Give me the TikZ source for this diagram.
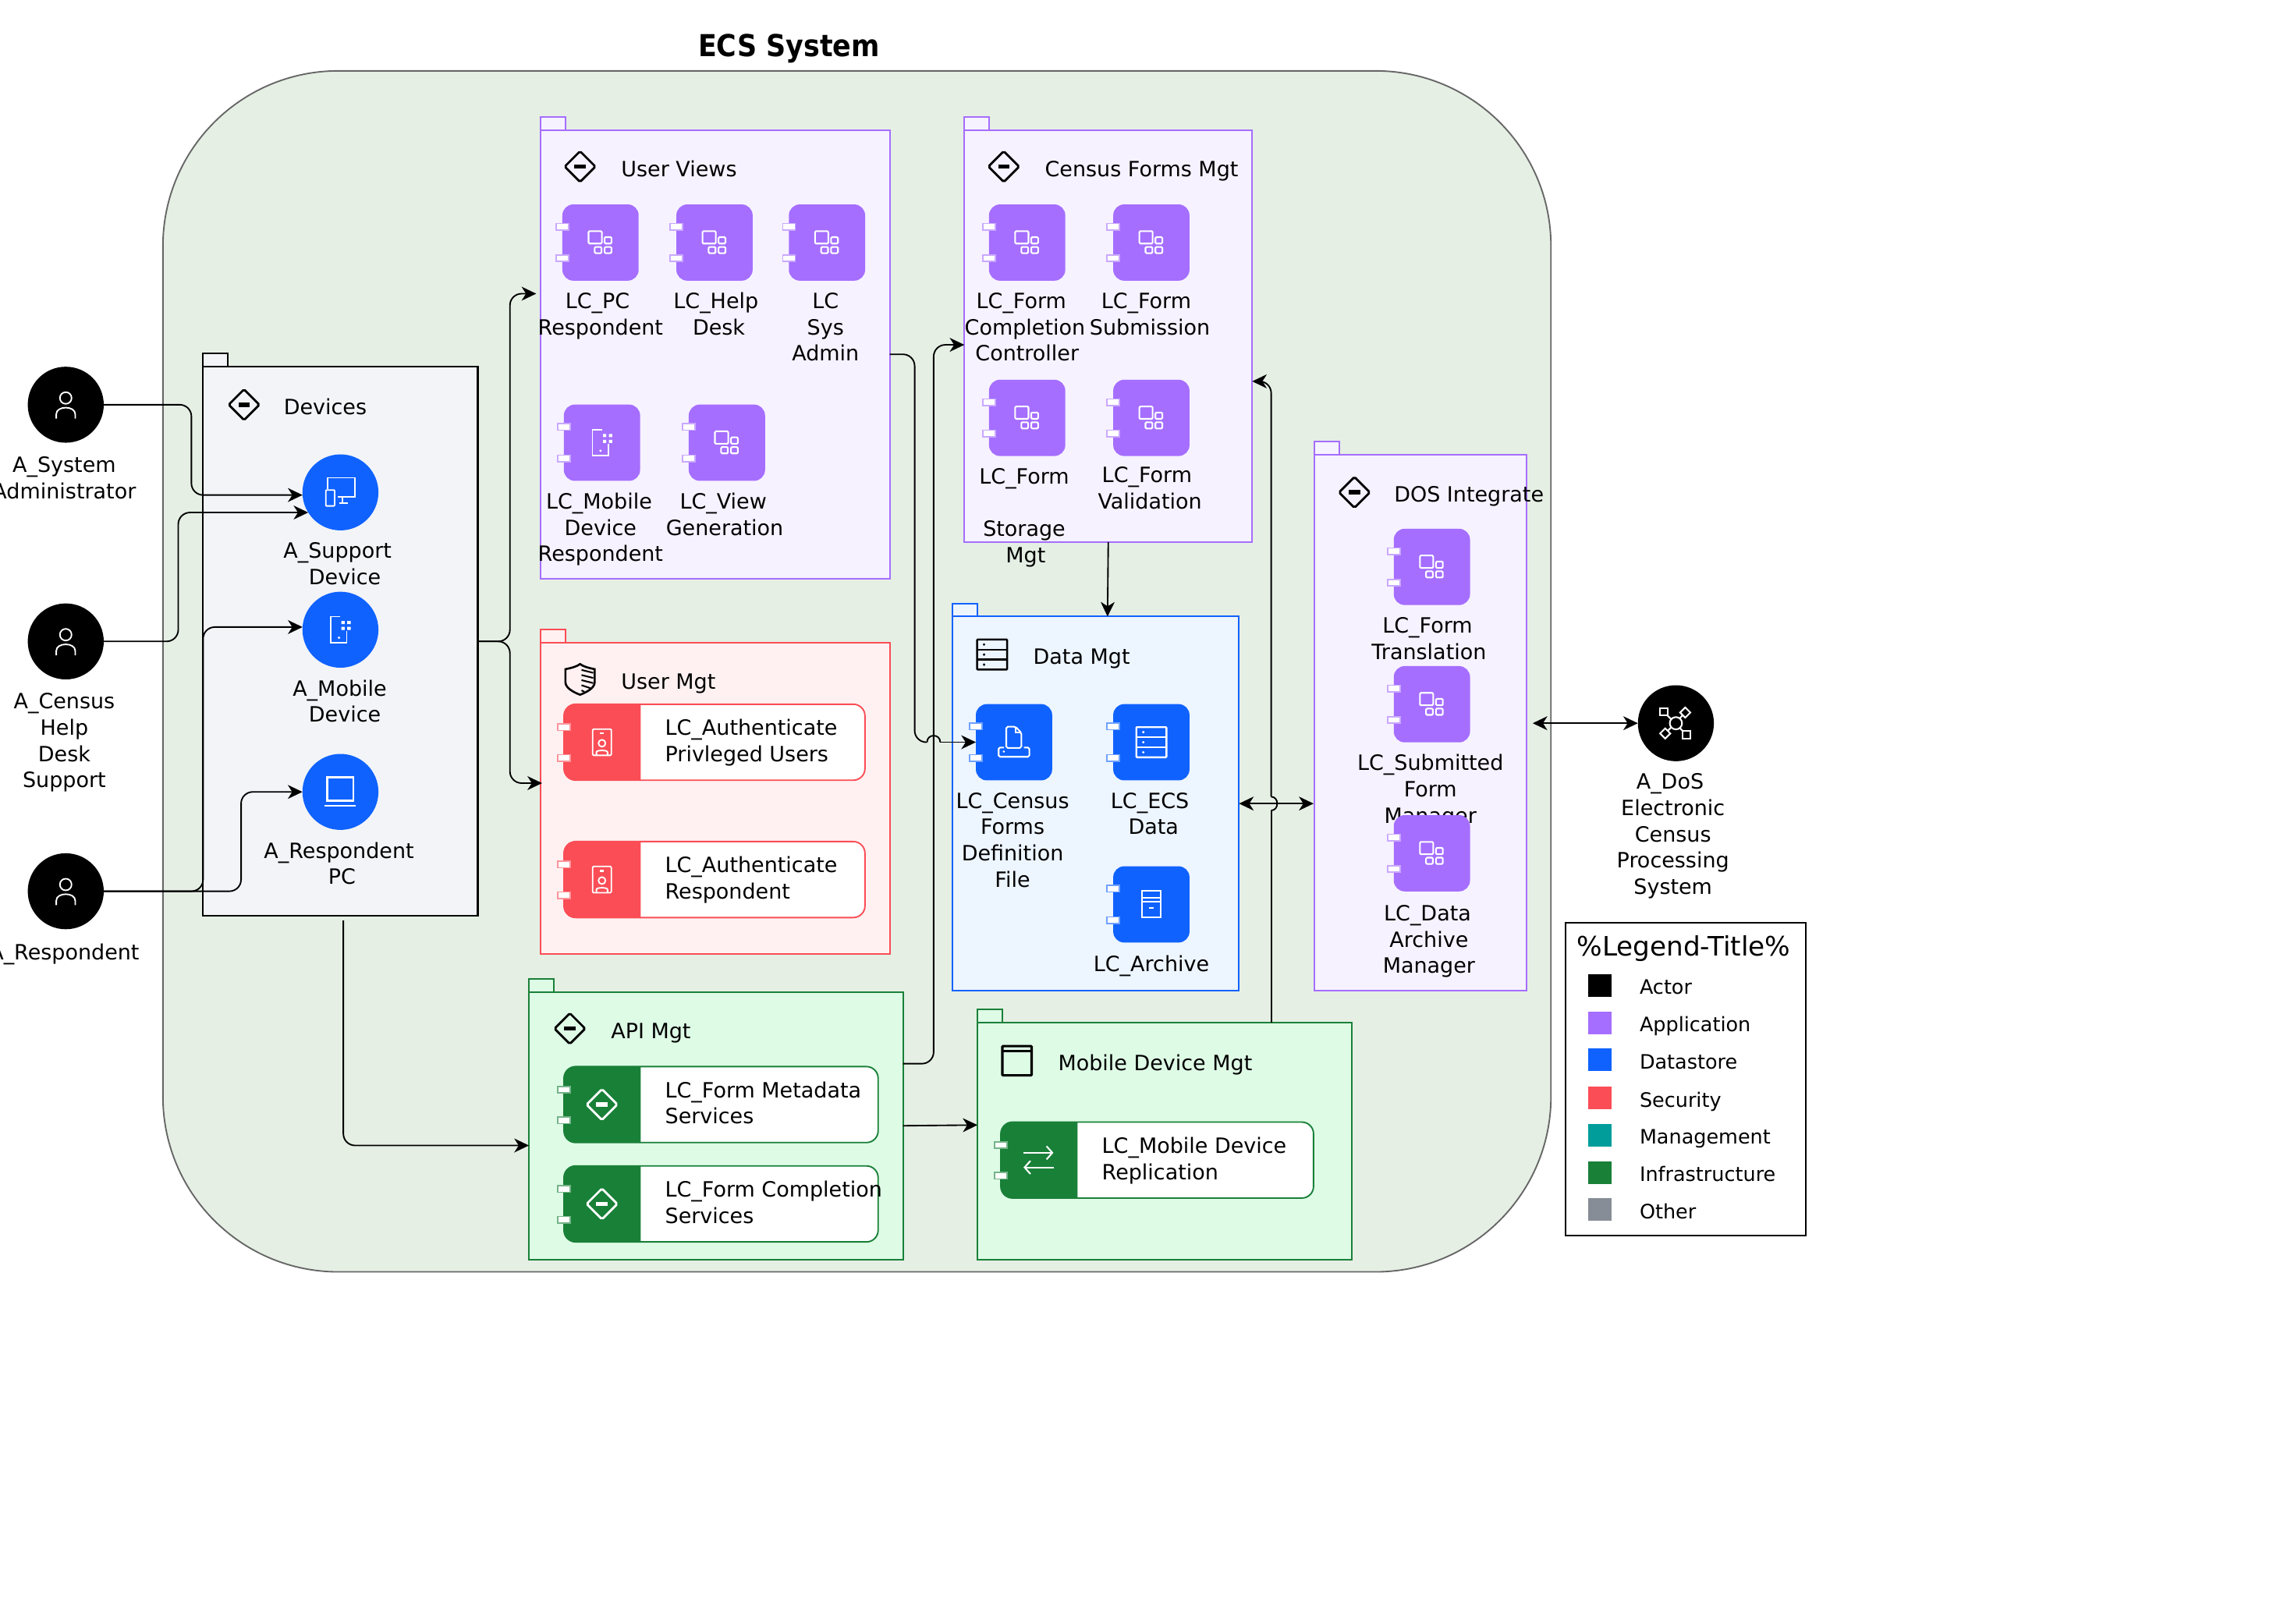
\documentclass[tikz,border=0pt]{standalone}
\usepackage{fontspec}
\setmainfont{DejaVu Sans}
\newfontfamily\titlefont[FakeStretch=0.9]{DejaVu Sans}
\usetikzlibrary{arrows.meta}

\definecolor{actorc}{HTML}{000000}
\definecolor{appc}{HTML}{A56EFF}
\definecolor{datac}{HTML}{0F62FE}
\definecolor{secc}{HTML}{FA4D56}
\definecolor{mgmtc}{HTML}{009D9A}
\definecolor{infrac}{HTML}{198038}
\definecolor{otherc}{HTML}{878D96}
\definecolor{appbg}{HTML}{F6F2FF}
\definecolor{databg}{HTML}{EDF5FF}
\definecolor{secbg}{HTML}{FFF1F1}
\definecolor{infrabg}{HTML}{DEFBE6}
\definecolor{devbg}{HTML}{F2F4F8}
\definecolor{sysbg}{HTML}{E5EFE4}

\tikzset{
	conn/.style={line width=1pt,rounded corners=8pt,->},
	connpart/.style={line width=1pt,rounded corners=8pt},
	bothconn/.style={line width=1pt,<->},
	lbl/.style={font=\fontsize{14.4}{18}\selectfont,align=center,inner sep=0pt,yshift=-2.5pt,execute at begin node=\strut,execute at end node=\strut},
	lefttxt/.style={font=\fontsize{14.4}{18}\selectfont,align=left,inner sep=0pt,anchor=west,yshift=-2.5pt,execute at begin node=\strut,execute at end node=\strut},
	keytxt/.style={font=\fontsize{13.6}{18}\selectfont,inner sep=0pt,anchor=west,yshift=-2pt,execute at begin node=\strut},
	pkgbox/.style={rectangle,anchor=north west,inner sep=0pt,outer sep=0pt,line width=1.1pt},
	apppkg/.style={draw=appc,fill=appbg},
	datapkg/.style={draw=datac,fill=databg},
	secpkg/.style={draw=secc,fill=secbg},
	infrapkg/.style={draw=infrac,fill=infrabg},
	devpkg/.style={draw=black,fill=devbg},
	tilebox/.style={rectangle,rounded corners=7.5pt,minimum width=52.2pt,minimum height=52.2pt,inner sep=0pt,outer sep=0pt},
	pinbox/.style={fill=white,line width=0.9pt},
	ball/.style={circle,minimum size=52pt,inner sep=0pt,outer sep=0pt},
	swatch/.style={rectangle,minimum width=16pt,minimum height=15.5pt,inner sep=0pt},
	pics/personicon/.style={code={
		\draw[white,line width=1pt] (0,-4.6) circle (4);
		\draw[white,line width=1pt] (-6.5,9.5) -- (-6.5,6.5) .. controls (-6.5,0.5) and (6.5,0.5) .. (6.5,6.5) -- (6.5,9.5);
	}},
	pics/appicon/.style={code={
		\draw[white,line width=1.1pt,rounded corners=0.7pt] (-8.2,-7.8) rectangle (0.9,0.7);
		\draw[white,line width=1.1pt,rounded corners=0.7pt] (2.8,-3.7) rectangle (7.5,0.7);
		\draw[white,line width=1.1pt,rounded corners=0.7pt] (-4,3) rectangle (0.7,7.3);
		\draw[white,line width=1.1pt,rounded corners=0.7pt] (2.8,3) rectangle (7.5,7.3);
	}},
	pics/diamondicon/.style={code={
		\draw[#1,line width=1.5pt,rounded corners=1pt] (-10.5,0) -- (0,-10.5) -- (10.5,0) -- (0,10.5) -- cycle;
		\fill[#1] (-3.9,-1.5) rectangle (3.9,1.5);
	}},
	pics/shieldicon/.style={code={
		\draw[black,line width=1.4pt] (-10,-7) .. controls (-5,-8) and (-2,-9) .. (0,-10.5) .. controls (2,-9) and (5,-8) .. (10,-7) -- (10,2) .. controls (10,6) and (4,9) .. (0,10.5) .. controls (-4,9) and (-10,6) .. (-10,2) -- cycle;
		\draw[black,line width=1.1pt] (1,-6.5) -- (9,-4.5) (1,-3) -- (9,-1) (1,0.5) -- (9,2.5) (1,4) -- (7,6) (1,7.5) -- (3,8.5);
	}},
	pics/servericon/.style={code={
		\draw[#1,line width=1.3pt,rounded corners=0.5pt] (-10.3,-10.3) rectangle (10.3,10.3);
		\draw[#1,line width=1.3pt] (-10.3,-3.4) -- (10.3,-3.4) (-10.3,3.4) -- (10.3,3.4);
		\fill[#1] (-5.5,-6.9) circle (0.9) (-5.5,0) circle (0.9) (-5.5,6.9) circle (0.9);
	}},
	pics/mobileicon/.style={code={
		\draw[white,line width=1pt] (0,-9) -- (-6.5,-9) -- (-6.5,9) -- (4.3,9) -- (4.3,1);
		\fill[white] (0.7,-6) rectangle (2.9,-3.9) (4.7,-6) rectangle (7,-3.9) (0.7,-2) rectangle (2.9,0.2) (4.7,-2) rectangle (7,0.2) (-1,5.5) circle (0.9);
	}},
	pics/desktopicon/.style={code={
		\draw[white,line width=1pt] (-9,-2.5) -- (-9,-10) -- (10,-10) -- (10,3.3) -- (-2,3.3);
		\draw[white,line width=1pt,rounded corners=0.5pt] (-10,-1.6) rectangle (-4,9.3);
		\draw[white,line width=1pt] (1.5,3.3) -- (1.5,7.5) (-1,7.5) -- (5,7.5);
	}},
	pics/laptopicon/.style={code={
		\draw[white,line width=1.2pt] (-9,-10) rectangle (9,6);
		\draw[white,line width=1.4pt] (-11,9.5) -- (10.7,9.5);
	}},
	pics/badgeicon/.style={code={
		\draw[white,line width=1pt,rounded corners=0.7pt] (-6.4,-9) rectangle (6.4,9);
		\draw[white,line width=1.2pt] (-1.2,-6) -- (1.2,-6);
		\draw[white,line width=1pt] (0,0.7) circle (2.4);
		\draw[white,line width=1pt] (-3.8,9) -- (-3.8,6.8) .. controls (-3.8,5.2) and (3.8,5.2) .. (3.8,6.8) -- (3.8,9);
	}},
	pics/docicon/.style={code={
		\draw[white,line width=1.1pt,rounded corners=1pt] (-5.3,3.9) -- (-5.3,-10.6) -- (1,-10.6) -- (5,-6.5) -- (5,3.9) -- cycle;
		\draw[white,line width=1pt] (1,-10.6) -- (1,-6.5) -- (5,-6.5);
		\draw[white,line width=1.1pt,rounded corners=1pt] (-6.8,3.6) -- (-10.5,3.6) -- (-10.5,10) -- (10.5,10) -- (10.5,3.6) -- (6.8,3.6);
		\fill[white] (-7,6.4) circle (0.8);
	}},
	pics/archiveicon/.style={code={
		\draw[white,line width=1.1pt] (-6.5,-9.1) rectangle (6.5,9);
		\draw[white,line width=1.1pt] (-6.5,-4.5) -- (6.5,-4.5) (-6.5,-1.6) -- (6.5,-1.6);
		\draw[white,line width=1.2pt] (-1.5,2.5) -- (1.5,2.5);
	}},
	pics/browsericon/.style={code={
		\draw[black,line width=1.7pt,rounded corners=0.5pt] (-10,-10) rectangle (10,10);
		\draw[black,line width=1.7pt] (-10,-6.5) -- (10,-6.5);
	}},
	pics/swapicon/.style={code={
		\draw[white,line width=1.1pt,-{Straight Barb[length=4pt,width=9pt]}] (-10.5,-5) -- (10,-5);
		\draw[white,line width=1.1pt,-{Straight Barb[length=4pt,width=9pt]}] (10,5) -- (-10.5,5);
	}},
	pics/hubicon/.style={code={
		\draw[white,line width=1.1pt] (-8.2,-7.8) -- (7.1,7.8) (6.4,-7.3) -- (-7.3,7);
		\draw[white,line width=1.1pt,fill=black] (0,0) circle (4.2);
		\draw[white,line width=1.1pt,fill=black] (-10.8,-10.4) rectangle (-5.6,-5.2) (4.5,5.2) rectangle (9.7,10.4);
		\draw[white,line width=1.1pt,fill=black] (6.4,-10.8) -- (9.9,-7.3) -- (6.4,-3.8) -- (2.9,-7.3) -- cycle;
		\draw[white,line width=1.1pt,fill=black] (-7.3,3.5) -- (-3.8,7) -- (-7.3,10.5) -- (-10.8,7) -- cycle;
	}},
}

\def\package[#1](#2)(#3,#4)(#5,#6){
	\node[pkgbox,#1,minimum width=#5pt,minimum height=#6pt] (#2) at (#3,#4) {};
	\draw[#1,line width=1.1pt] (#3,#4-9) rectangle (#3+17,#4);
}
\def\tile[#1](#2)(#3,#4)#5{
	\node[tilebox,fill=#1] (#2) at (#3,#4) {};
	\draw[pinbox,draw=#1!60] (#3-30.3,#4-13) rectangle (#3-21.8,#4-8.5);
	\draw[pinbox,draw=#1!60] (#3-30.3,#4+8.5) rectangle (#3-21.8,#4+13);
	\pic at (#2) {#5};
}
\def\widetile[#1](#2)(#3,#4)(#5)#6{
	\node[rectangle,anchor=north west,rounded corners=8pt,draw=#1,fill=white,line width=1pt,minimum width=#5pt,minimum height=52pt,inner sep=0pt,outer sep=0pt] (#2) at (#3,#4) {};
	\fill[#1] (#3+52.5,#4) [rounded corners=8pt] -- (#3,#4) -- (#3,#4+52) [sharp corners] -- (#3+52.5,#4+52) -- cycle;
	\draw[pinbox,draw=#1!60] (#3-4.3,#4+13.5) rectangle (#3+4.3,#4+18);
	\draw[pinbox,draw=#1!60] (#3-4.3,#4+34.5) rectangle (#3+4.3,#4+39);
	\pic at (#3+26,#4+26) {#6};
}

\begin{document}
\begin{tikzpicture}[x=1pt,y=-1pt,>={Stealth[length=10pt,width=9.5pt,inset=3pt]}]
	\useasboundingbox (0,0) rectangle (1568,1111.5);
	
	%%%%% START %%%%%
	
	\node[font=\fontsize{20.7}{25}\titlefont\bfseries,inner sep=0pt] (systitle) at (540,33) {ECS System};
	\node[rectangle,anchor=north west,rounded corners=120pt,draw=black!60,fill=sysbg,line width=1pt,minimum width=950pt,minimum height=822pt,inner sep=0pt] (ecssystem) at (111,48) {};
	
	\package[devpkg](devices)(139,251)(188,376)
	\package[apppkg](userviews)(370,89)(239,307)
	\package[secpkg](usermgt)(370,440)(239,213)
	\package[apppkg](censusmgt)(660,89)(197,282)
	\package[datapkg](datamgt)(652,422)(196,256)
	\package[apppkg](dosint)(899.5,311)(145.5,367)
	\package[infrapkg](apimgt)(362,679)(256,183)
	\package[infrapkg](mobilemgt)(669,700)(256,162)
	
	\pic at (167,277) {diamondicon=black};
	\node[lefttxt] (devicestxt) at (194,277.5) {Devices};
	\pic at (397,114) {diamondicon=black};
	\node[lefttxt] (viewstxt) at (425,115) {User Views};
	\pic at (397,465) {shieldicon};
	\node[lefttxt] (umgttxt) at (425,465.5) {User Mgt};
	\pic at (687,114) {diamondicon=black};
	\node[lefttxt] (censustxt) at (715,115) {Census Forms Mgt};
	\pic at (679,448) {servericon=black};
	\node[lefttxt] (datatxt) at (707,448.5) {Data Mgt};
	\pic at (927,337) {diamondicon=black};
	\node[lefttxt] (dostxt) at (954,337.5) {DOS Integrate};
	\pic at (390,704) {diamondicon=black};
	\node[lefttxt] (apitxt) at (418,705) {API Mgt};
	\pic at (696,726) {browsericon};
	\node[lefttxt] (mobiletxt) at (724,726.5) {Mobile Device Mgt};
	
	\node[lbl] (pclbl) at (411,215) {LC\_PC\hspace*{4pt}\\Respondent};
	\node[lbl] (helplbl) at (491,215) {LC\_Help\hspace*{2pt}\\\hspace*{2pt}Desk};
	\node[lbl] (syslbl) at (565,224) {LC\\Sys\hspace*{3pt}\\Admin};
	\node[lbl] (mobilelbl) at (411,361) {LC\_Mobile\hspace*{2pt}\\Device\\Respondent};
	\node[lbl] (viewlbl) at (496,352) {LC\_View\hspace*{2pt}\\Generation};
	\node[lbl] (complbl) at (701.5,224) {LC\_Form\hspace*{5pt}\\Completion\\\hspace*{3pt}Controller};
	\node[lbl] (sublbl) at (787,215) {LC\_Form\hspace*{5pt}\\Submission};
	\node[lbl] (storelbl) at (701,353) {LC\_Form\\[18pt]Storage\hspace*{6pt}\\\hspace*{2pt}Mgt};
	\node[lbl] (validlbl) at (787,334) {LC\_Form\hspace*{4pt}\\Validation};
	\node[lbl] (deflbl) at (693,575) {LC\_Census\\Forms\\Definition\hspace*{4pt}\\File};
	\node[lbl] (ecslbl) at (788.5,557) {LC\_ECS\hspace*{3pt}\\\hspace*{2pt}Data};
	\node[lbl] (archlbl) at (788,659) {LC\_Archive};
	\node[lbl] (translbl) at (978,437) {LC\_Form\hspace*{2pt}\\Translation};
	\node[lbl] (submlbl) at (979,540) {LC\_Submitted\\Form\\Manager};
	\node[lbl] (dataarchlbl) at (978,643) {LC\_Data\hspace*{2pt}\\Archive\hspace*{4pt}\\Manager};
	
	\tile[appc](pcres)(411,166){appicon}
	\tile[appc](helpdesk)(489,166){appicon}
	\tile[appc](sysadmin)(566,166){appicon}
	\tile[appc](mobileres)(412,303){mobileicon}
	\tile[appc](viewgen)(497.5,303){appicon}
	\tile[appc](formcomp)(703,166){appicon}
	\tile[appc](formsub)(788,166){appicon}
	\tile[appc](formstore)(703,286){appicon}
	\tile[appc](formvalid)(788,286){appicon}
	\tile[datac](censusfile)(694,508){docicon}
	\tile[datac](ecsdata)(788,508){servericon=white}
	\tile[datac](archive)(788,619){archiveicon}
	\tile[appc](formtrans)(980,388){appicon}
	\tile[appc](submitted)(980,482){appicon}
	\tile[appc](dataarch)(980,584){appicon}
	
	\widetile[secc](authpriv)(386,482)(206){badgeicon}
	\node[lefttxt] (authprivtxt) at (455,507) {LC\_Authenticate\\Privleged Users};
	\widetile[secc](authres)(386,576)(206){badgeicon}
	\node[lefttxt] (authrestxt) at (455,601) {LC\_Authenticate\\Respondent};
	\widetile[infrac](metaserv)(386,730)(215){diamondicon=white}
	\node[lefttxt] (metaservtxt) at (455,755) {LC\_Form Metadata\\Services};
	\widetile[infrac](compserv)(386,798)(215){diamondicon=white}
	\node[lefttxt] (compservtxt) at (455,823) {LC\_Form Completion\\Services};
	\widetile[infrac](replica)(685,768)(214){swapicon}
	\node[lefttxt] (replicatxt) at (754,793) {LC\_Mobile Device\\Replication};
	
	\node[ball,fill=black] (sysactor) at (45,277) {};
	\pic at (sysactor) {personicon};
	\node[lbl] (sysactorlbl) at (44,327) {A\_System\\Administrator};
	\node[ball,fill=black] (helpactor) at (45,439) {};
	\pic at (helpactor) {personicon};
	\node[lbl] (helpactorlbl) at (44,507) {A\_Census\\Help\\Desk\\Support};
	\node[ball,fill=black] (resactor) at (45,610) {};
	\pic at (resactor) {personicon};
	\node[lbl] (resactorlbl) at (44,651) {A\_Respondent};
	
	\node[ball,fill=datac] (supportdev) at (233,337) {};
	\pic at (supportdev) {desktopicon};
	\node[lbl] (supportlbl) at (231,386) {A\_Support\\\hspace*{10pt}Device};
	\node[ball,fill=datac] (mobiledev) at (233,431) {};
	\pic at (mobiledev) {mobileicon};
	\node[lbl] (mobiledevlbl) at (232.5,480) {A\_Mobile\\\hspace*{7pt}Device};
	\node[ball,fill=datac] (respc) at (233,542) {};
	\pic at (respc) {laptopicon};
	\node[lbl] (respclbl) at (232,591) {A\_Respondent\\\hspace*{4pt}PC};
	
	\node[ball,fill=black] (dosactor) at (1147,495) {};
	\pic at (dosactor) {hubicon};
	\node[lbl] (dosactorlbl) at (1145,571) {A\_DoS\hspace*{4pt}\\Electronic\hspace*{5pt}\\Census\hspace*{4pt}\\Processing\\System};
	
	\coordinate (uvin) at (367,201);
	\coordinate (umgtin) at (371,536);
	\coordinate (devout) at (235,630);
	\coordinate (apiin) at (362,784);
	\coordinate (apiup) at (618,728);
	\coordinate (censusin) at (660,236);
	\coordinate (mobilein) at (669,770);
	\coordinate (datatop) at (758,422);
	\coordinate (mobiletop) at (870,700);
	\coordinate (censusright) at (857,261);
	\coordinate (dosin) at (899,550);
	\coordinate (dosright) at (1049,495);
	\coordinate (jumpleft) at (634.5,508);
	\coordinate (jumpright) at (643.5,508);
	\coordinate (jumplow) at (870,554.7);
	\coordinate (jumphigh) at (870,545.3);
	
	\draw[conn] (sysactor.east) -- ++(60,0) |- (supportdev.184);
	\draw[conn] (helpactor.east) -- ++(51,0) |- (supportdev.212);
	\draw[conn] (resactor.east) -- ++(68,0) |- (mobiledev.176);
	\draw[conn] (resactor.east) -- ++(94,0) |- (respc.west);
	\draw[conn] (devices.east) -- ++(22,0) |- (uvin);
	\draw[conn] (devices.east) -- ++(22,0) |- (umgtin);
	\draw[conn] (devout) |- (apiin);
	\draw[connpart] (userviews.east) -- ++(17,0) |- (jumpleft);
	\draw[line width=1pt] (jumpleft) .. controls (634.5,502) and (643.5,502) .. (jumpright);
	\draw[line width=1pt,->] (jumpright) -- (censusfile.west);
	\draw[conn] (apiup) -- ++(21,0) |- (censusin);
	\draw[line width=1pt,->] (apimgt.east) -- (mobilein);
	\draw[line width=1pt,->] (censusmgt.south) -- (datatop);
	\draw[line width=1pt] (mobiletop) -- (jumplow);
	\draw[line width=1pt] (jumplow) .. controls (875.5,554.7) and (875.5,545.3) .. (jumphigh);
	\draw[conn] (jumphigh) |- (censusright);
	\draw[bothconn] (datamgt.east) -- (dosin);
	\draw[bothconn] (dosright) -- (dosactor.west);
	
	\node[rectangle,anchor=north west,draw=black,fill=white,line width=1.1pt,minimum width=164.5pt,minimum height=214pt,inner sep=0pt] (legendbox) at (1071,631) {};
	\node[font=\fontsize{18.3}{24}\selectfont,anchor=west,inner sep=0pt] (legendtitle) at (1079,649) {\%Legend-Title\%};
	\node[swatch,fill=actorc] (actorkey) at (1095,674.5) {};
	\node[keytxt] (actortxt) at (1122,675) {Actor};
	\node[swatch,fill=appc] (appkey) at (1095,700) {};
	\node[keytxt] (apptxt) at (1122,700.5) {Application};
	\node[swatch,fill=datac] (datakey) at (1095,725.5) {};
	\node[keytxt] (datakeytxt) at (1122,726) {Datastore};
	\node[swatch,fill=secc] (seckey) at (1095,751.5) {};
	\node[keytxt] (sectxt) at (1122,752) {Security};
	\node[swatch,fill=mgmtc] (mgmtkey) at (1095,777) {};
	\node[keytxt] (mgmttxt) at (1122,777.5) {Management};
	\node[swatch,fill=infrac] (infrakey) at (1095,802.5) {};
	\node[keytxt] (infratxt) at (1122,803) {Infrastructure};
	\node[swatch,fill=otherc] (otherkey) at (1095,828) {};
	\node[keytxt] (othertxt) at (1122,828.5) {Other};
	
	%%%%% END %%%%%
\end{tikzpicture}
\end{document}
